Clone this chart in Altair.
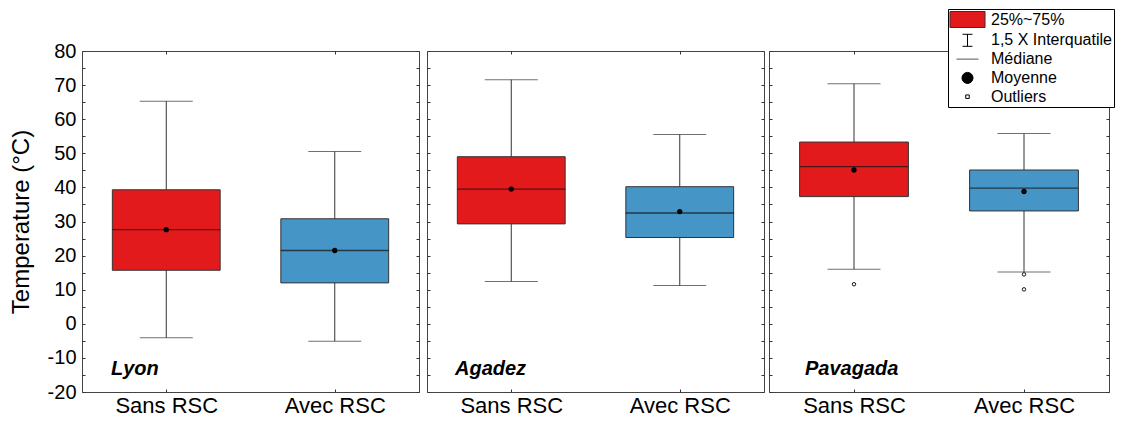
import altair as alt
import pandas as pd

# ---------------- data ----------------
groups = ["Sans RSC", "Avec RSC"]
box_site = ["Lyon", "Lyon", "Agadez", "Agadez", "Pavagada", "Pavagada"]
box_group = ["Sans RSC", "Avec RSC", "Sans RSC", "Avec RSC", "Sans RSC", "Avec RSC"]
whisker_low = [-4.1, -5.1, 12.4, 11.2, 16.0, 15.2]
q1 = [15.7, 12.0, 29.3, 25.3, 37.3, 33.1]
median = [27.6, 21.5, 39.5, 32.5, 46.1, 39.8]
mean = [27.6, 21.5, 39.5, 32.9, 45.1, 38.8]
q3 = [39.3, 30.8, 49.0, 40.2, 53.3, 45.1]
whisker_high = [65.3, 50.5, 71.6, 55.5, 70.4, 55.8]

out_site = ["Pavagada", "Pavagada", "Pavagada"]
out_group = ["Sans RSC", "Avec RSC", "Avec RSC"]
out_value = [11.6, 14.5, 10.1]

legend_labels = ["25%~75%", "1,5 X Interquatile", "Médiane", "Moyenne", "Outliers"]
y_ticks = list(range(-20, 81, 5))

stats = pd.DataFrame({
    "site": box_site, "group": box_group, "low": whisker_low, "q1": q1,
    "median": median, "mean": mean, "q3": q3, "high": whisker_high,
})
outl = pd.DataFrame({"site": out_site, "group": out_group, "value": out_value})
legdf = pd.DataFrame({"leg": legend_labels})

# ---------------- style ----------------
FONT = "Liberation Sans"
RED = "#e31a1c"
BLUE = "#4596c6"
DARK = "#333333"
H = 341

leg_paths = [
    "M-2.19,-1 H2.19 V1 H-2.19 Z",
    "M-0.62,-0.75 H0.62 M0,-0.75 V0.75 M-0.62,0.75 H0.62",
    "M-1.37,0 H1.37",
    "M-0.69,0 A0.69,0.69 0 1,0 0.69,0 A0.69,0.69 0 1,0 -0.69,0 Z",
    "M-0.22,-0.22 H0.22 V0.22 H-0.22 Z",
]
leg_fills = [RED, "transparent", "transparent", "black", "white"]
leg_strokes = [DARK, "black", "#555555", "black", "black"]

xscale = alt.Scale(domain=groups, paddingInner=0.36, paddingOuter=0.18)
yscale = alt.Scale(domain=[-20, 80], nice=False, zero=False)


def panel(site, first, text_dx, with_legend, width):
    d = stats[stats.site == site]
    o = outl[outl.site == site]

    x = alt.X("group:N", sort=groups, scale=xscale, axis=None)

    def y(field):
        return alt.Y(field, scale=yscale, axis=None)

    whisk = alt.Chart(d).mark_rule(color=DARK, strokeWidth=1).encode(
        x=x, y=y("low:Q"), y2="high:Q")
    cap_lo = alt.Chart(d).mark_tick(color=DARK, size=53, thickness=1).encode(x=x, y=y("low:Q"))
    cap_hi = alt.Chart(d).mark_tick(color=DARK, size=53, thickness=1).encode(x=x, y=y("high:Q"))
    box = alt.Chart(d).mark_bar(stroke=DARK, strokeWidth=1).encode(
        x=x, y=y("q1:Q"), y2="q3:Q",
        fill=alt.condition(alt.datum.group == "Sans RSC", alt.value(RED), alt.value(BLUE)))
    med = alt.Chart(d).mark_tick(color="#111111", size=108, thickness=1.3).encode(
        x=x, y=y("median:Q"))
    mn = alt.Chart(d).mark_circle(color="black", size=28, opacity=1).encode(
        x=x, y=y("mean:Q"))
    layers = [whisk, cap_lo, cap_hi, box, med, mn]
    if len(o):
        outs = alt.Chart(o).mark_point(shape="circle", size=12, filled=False,
                                       color="black", strokeWidth=0.9, fill="white",
                                       fillOpacity=1).encode(x=x, y=y("value:Q"))
        layers.append(outs)
    label = alt.Chart(pd.DataFrame({"t": [site]})).mark_text(
        align="left", baseline="alphabetic", font=FONT, fontSize=20,
        fontWeight="bold", fontStyle="italic", color="black").encode(
        text="t:N", x=alt.value(text_dx), y=alt.datum(-15))
    layers.append(label)

    if with_legend:
        lg = alt.Legend(title=None, orient="none", legendX=866, legendY=-42,
                        labelFont=FONT, labelFontSize=16, labelColor="black",
                        symbolStrokeWidth=1, symbolSize=256, symbolOpacity=1,
                        labelOffset=15, rowPadding=1.8, padding=2,
                        strokeColor="black", fillColor="white", symbolOffset=9)
        legend_layer = alt.Chart(legdf).mark_point(
            filled=True, size=256, clip=True, strokeWidth=1, opacity=1).encode(
            y=alt.datum(1000),
            fill=alt.Fill("leg:N", sort=legend_labels,
                          scale=alt.Scale(domain=legend_labels, range=leg_fills), legend=lg),
            stroke=alt.Stroke("leg:N", sort=legend_labels,
                              scale=alt.Scale(domain=legend_labels, range=leg_strokes), legend=lg),
            shape=alt.Shape("leg:N", sort=legend_labels,
                            scale=alt.Scale(domain=legend_labels, range=leg_paths), legend=lg),
        )
        layers.append(legend_layer)

    inner = alt.layer(*layers)

    # axes: left + bottom
    xaxis = alt.Axis(orient="bottom", title=None, labelAngle=0, labelFontSize=22,
                     labelFont=FONT, labelColor="black", tickSize=3, offset=-3,
                     domain=False, labelPadding=3, tickColor=DARK, labelOverlap=False)
    yaxis = alt.Axis(orient="left", values=y_ticks, tickSize=3, offset=-3, domain=False,
                     tickColor=DARK, grid=False,
                     labels=first, labelFontSize=20, labelFont=FONT, labelColor="black",
                     labelPadding=6, labelOverlap=False, labelBound=False,
                     labelExpr="datum.value % 10 == 0 ? '' + datum.value : ''",
                     title="Temperature (°C)" if first else None,
                     titleFontSize=24, titleFont=FONT, titleFontWeight="normal",
                     titleColor="black", titlePadding=14)
    axes_lb = alt.Chart(d).mark_point(opacity=0).encode(
        x=alt.X("group:N", sort=groups, scale=xscale, axis=xaxis),
        y=alt.Y("median:Q", scale=yscale, axis=yaxis))

    # axes: top + right (ticks only)
    top_axis = alt.Axis(orient="top", title=None, labels=False, tickSize=3, offset=-3,
                        domain=False, tickColor=DARK)
    right_axis = alt.Axis(orient="right", title=None, labels=False, values=y_ticks,
                          tickSize=3, offset=-3, domain=False, tickColor=DARK, grid=False)
    axes_tr = alt.Chart(d).mark_point(opacity=0).encode(
        x=alt.X("group:N", sort=groups, scale=xscale, axis=top_axis),
        y=alt.Y("median:Q", scale=yscale, axis=right_axis))

    return alt.layer(inner, axes_lb, axes_tr).resolve_scale(
        x="independent", y="independent").properties(width=width, height=H)


chart = alt.hconcat(
    alt.hconcat(
        panel("Lyon", True, 29, False, 337),
        panel("Agadez", False, 28, False, 337),
        spacing=6,
    ),
    panel("Pavagada", False, 36, True, 340),
    spacing=3,
).properties(
    padding={"left": 0, "top": 0, "right": 0, "bottom": 0},
    background="white",
).configure_view(stroke="#444444", strokeWidth=1)

chart.save("out.html", embed_options={"renderer": "svg", "actions": False})
